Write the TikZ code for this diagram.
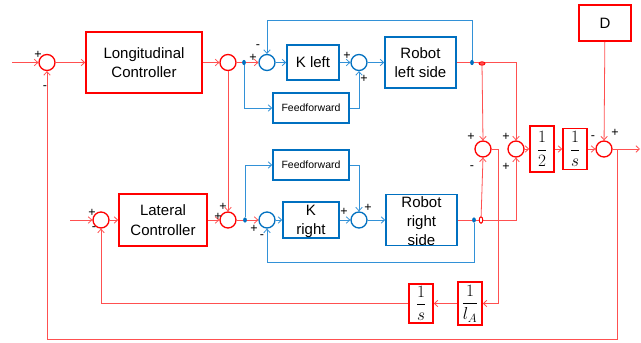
\documentclass[tikz,border=0pt]{standalone}
\usepackage{fontspec}
\setmainfont{Liberation Sans}
\usetikzlibrary{arrows.meta,shapes.geometric}
\definecolor{rbox}{RGB}{255,0,0}
\definecolor{rline}{RGB}{255,80,80}
\definecolor{bbox}{RGB}{0,112,192}
\definecolor{bline}{RGB}{50,145,215}
\newcommand{\vfr}[2]{$\displaystyle\frac{#1}{#2}$}
\begin{document}
\begin{tikzpicture}[x=1pt,y=-1pt,
  >={Straight Barb[length=3.5pt,width=6.5pt]},
  rblock/.style={draw=rbox,line width=1.6pt,inner sep=0pt,align=center,font=\fontsize{15}{19.5}\selectfont},
  bblock/.style={draw=bbox,line width=1.6pt,inner sep=0pt,align=center,font=\fontsize{15}{18.5}\selectfont},
  txt/.style={inner sep=0pt,align=center,font=\fontsize{15}{19}\selectfont},
  ffbox/.style={bblock,font=\fontsize{10.5}{12}\selectfont},
  fracbox/.style={rblock,font=\fontsize{17}{17}\selectfont},
  rsum/.style={circle,draw=rbox,line width=1.3pt,minimum size=16pt,inner sep=0pt},
  bsum/.style={circle,draw=bbox,line width=1.3pt,minimum size=16pt,inner sep=0pt},
  rwire/.style={draw=rline,line width=0.8pt},
  bwire/.style={draw=bline,line width=0.8pt},
  sgn/.style={font=\fontsize{12.5}{12.5}\selectfont,inner sep=0pt},
  bdot/.style={ellipse,fill=bbox,draw=bbox,line width=0.6pt,minimum width=3pt,minimum height=4.5pt,inner sep=0pt},
  rdotA/.style={ellipse,fill=rline,draw=rbox,line width=0.8pt,minimum width=6pt,minimum height=3.5pt,inner sep=0pt},
  rdotB/.style={ellipse,fill=white,draw=rbox,line width=1pt,minimum width=3.5pt,minimum height=6.5pt,inner sep=0pt}
]
\fill[white] (0,0) rectangle (641,343);
\useasboundingbox (0,0) rectangle (641,343);

% ---------- blocks ----------
\node[rblock,minimum width=116pt,minimum height=61pt] (lon) at (144,62.5) {Longitudinal\\Controller};
\node[rblock,minimum width=88pt,minimum height=52pt] (lat) at (163,220) {Lateral\\Controller};
\node[bblock,minimum width=52pt,minimum height=35pt] (kl) at (313,62.5) {K left};
\node[bblock,minimum width=56pt,minimum height=36pt] (kr) at (311,220) {};
\node[txt] (krt) at (311,221) {K\\right};
\node[ffbox,minimum width=76pt,minimum height=30pt] (ffl) at (311,108) {Feedforward};
\node[ffbox,minimum width=76pt,minimum height=30pt] (ffr) at (311,165) {Feedforward};
\node[bblock,minimum width=71pt,minimum height=51pt] (rl) at (420.5,62.5) {Robot\\left side};
\node[bblock,minimum width=71pt,minimum height=51pt] (rr) at (421.5,220) {};
\node[txt] (rrt) at (421.5,221) {Robot\\right\\side};
\node[fracbox,minimum width=24pt,minimum height=46pt] (half) at (542,149) {\vfr{1}{2}};
\node[fracbox,minimum width=24pt,minimum height=41pt] (ints) at (575,149) {\vfr{1}{s}};
\node[rblock,minimum width=52pt,minimum height=36pt] (D) at (605,23) {D};
\node[fracbox,minimum width=24pt,minimum height=43pt] (la) at (470,303.5) {\vfr{1}{l_A}};
\node[fracbox,minimum width=24pt,minimum height=39pt] (intl) at (421,303.5) {\vfr{1}{s}};

% ---------- sums ----------
\node[rsum] (s1) at (47,62.5) {};
\node[rsum] (s2) at (228,62.5) {};
\node[bsum] (s3) at (267,62.5) {};
\node[bsum] (s4) at (359,62.5) {};
\node[rsum] (s9) at (101,220) {};
\node[rsum] (s5) at (228,220) {};
\node[bsum] (s10) at (267,220) {};
\node[bsum] (s11) at (359,220) {};
\node[rsum] (s6) at (483,149) {};
\node[rsum] (s7) at (516,149) {};
\node[rsum] (s8) at (604,149) {};

% ---------- coordinates ----------
\coordinate (in1) at (12,62.5);
\coordinate (in2) at (70,220);
\coordinate (out) at (640,149);
\coordinate (j8) at (617,149);
\coordinate (c1) at (617,339);
\coordinate (c2) at (47,339);
\coordinate (t1) at (472,20);
\coordinate (b1) at (474,262);

% ---------- red connectors ----------
\draw[rwire,->] (in1) -- (s1.west);
\draw[rwire,->] (s1) -- (lon);
\draw[rwire,->] (lon) -- (s2);
\draw[rwire,->] (s2.east) -- (s3.west);
\draw[rwire,->] (s2.south) -- (s5.north);
\draw[rwire,->] (in2) -- (s9.west);
\draw[rwire,->] (s9) -- (lat);
\draw[rwire,->] (lat) -- (s5);
\draw[rwire,->] (s5.east) -- (s10.west);
\draw[rwire,->] (rl.east) -| (s7.north);
\draw[rwire,->] (rr.east) -| (s7.south);
\draw[rwire,->] (s7) -- (half);
\draw[rwire,->] (half) -- (ints);
\draw[rwire,->] (ints) -- (s8);
\draw[rwire,->] (D) -- (s8);
\draw[rwire,->] (s8.east) -- (out);
\draw[rwire,->] (j8) -- (c1) -- (c2) -- (s1.south);
\draw[rwire,->] (s6.east) -- ++(7,0) |- (la.east);
\draw[rwire,->] (la) -- (intl);
\draw[rwire,->] (intl.west) -| (s9.south);

% ---------- blue connectors ----------
\draw[bwire,->] (s3) -- (kl);
\draw[bwire,->] (kl) -- (s4);
\draw[bwire,->] (s4) -- (rl);
\draw[bwire,->] (s10) -- (kr);
\draw[bwire,->] (kr) -- (s11);
\draw[bwire,->] (s11) -- (rr);

% ---------- pick-off dots ----------
\node[bdot] (bd1) at (244,62.5) {};
\node[bdot] (bd2) at (245,220) {};
\node[bdot] (bd3) at (472,62.5) {};
\node[bdot] (bd4) at (474,220) {};
\node[rdotA] (rd1) at (482,63.5) {};
\node[rdotB] (rd2) at (481,220) {};

\draw[bwire,->] (bd1) |- (ffl.west);
\draw[bwire,->] (ffl.east) -| (s4.south);
\draw[bwire,->] (bd2) |- (ffr.west);
\draw[bwire,->] (ffr.east) -| (s11.north);
\draw[bwire,->] (bd3) -- (t1) -| (s3.north);
\draw[bwire,->] (bd4) -- (b1) -| (s10.south);
\draw[rwire,->] (rd1) -- (s6.north);
\draw[rwire,->] (rd2) -- (s6.south);

% ---------- signs ----------
\node[sgn] (p1) at (38,55) {+};
\node[sgn] (m1) at (45,88) {-};
\node[sgn] (p3) at (253,58) {+};
\node[sgn] (m3) at (258,47) {-};
\node[sgn] (p4a) at (347,56) {+};
\node[sgn] (p4b) at (364,79) {+};
\node[sgn] (p5a) at (223,207) {+};
\node[sgn] (p5b) at (218,217) {+};
\node[sgn] (p9) at (92,213) {+};
\node[sgn] (m9) at (94,229) {-};
\node[sgn] (p10) at (254,229) {+};
\node[sgn] (m10) at (262,237) {-};
\node[sgn] (p11a) at (344,212) {+};
\node[sgn] (p11b) at (368,208) {+};
\node[sgn] (p6) at (471,137) {+};
\node[sgn] (m6) at (472,168) {-};
\node[sgn] (p7a) at (506,137) {+};
\node[sgn] (p7b) at (506,167) {+};
\node[sgn] (m8) at (593,138) {-};
\node[sgn] (p8) at (615,133) {+};
\end{tikzpicture}
\end{document}
